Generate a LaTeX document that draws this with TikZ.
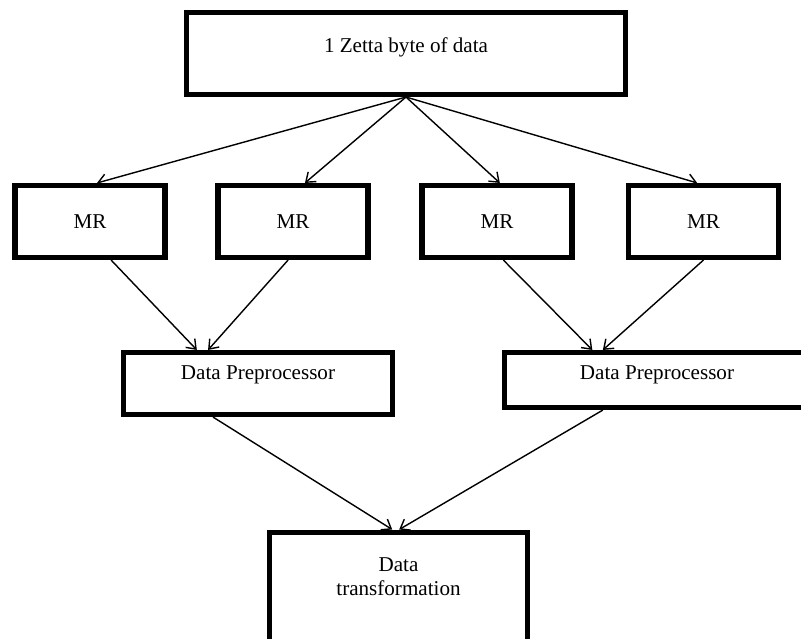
\documentclass[tikz,border=0pt]{standalone}
\usepackage{fontspec}
\setmainfont{Liberation Serif}
\usetikzlibrary{arrows.meta}

\begin{document}
\begin{tikzpicture}[x=0.025cm,y=-0.025cm,
                box/.style={draw=black, line width=3.6pt, inner sep=0pt, font=\fontsize{15pt}{16.5pt}\selectfont},
                link/.style={black, line width=1pt, -{Straight Barb[length=6pt,width=9pt]}}]
                \useasboundingbox (0,0) rectangle (801,638);
                \clip (0,0) rectangle (801,638);
                % boxes
                \node [box, minimum width=10.975cm, minimum height=2.05cm, text depth=12.3pt] (zetta) at (406,53.5) {1 Zetta byte of data};
                \node [box, minimum width=3.75cm, minimum height=1.8cm] (mr1) at (90,221.5) {MR};
                \node [box, minimum width=3.75cm, minimum height=1.8cm] (mr2) at (293,221.5) {MR};
                \node [box, minimum width=3.75cm, minimum height=1.8cm] (mr3) at (497,221.5) {MR};
                \node [box, minimum width=3.75cm, minimum height=1.8cm] (mr4) at (703.5,221.5) {MR};
                \node [box, minimum width=6.725cm, minimum height=1.55cm, text depth=14.9pt] (prep1) at (258,383.5) {Data Preprocessor};
                \node [box, minimum width=7.625cm, minimum height=1.375cm, text depth=9.9pt] (prep2) at (657,380) {Data Preprocessor};
                \node [box, anchor=north, align=center, minimum width=6.45cm, minimum height=4cm, text depth=50.5pt] (trans) at (398.5,529.5) {Data\\transformation};
                % connectors
                \draw [link] (zetta.south) -- ([xshift=5pt]mr1.north);
                \draw [link] (zetta.south) -- ([xshift=8.5pt]mr2.north);
                \draw [link] (zetta.south) -- ([xshift=2pt]mr3.north);
                \draw [link] (zetta.south) -- ([xshift=-4.5pt]mr4.north);
                \draw [link] ([xshift=15pt]mr1.south) -- ([xshift=-43.5pt]prep1.north);
                \draw [link] ([xshift=-3.5pt]mr2.south) -- ([xshift=-35.5pt]prep1.north);
                \draw [link] ([xshift=4.5pt]mr3.south) -- ([xshift=-46pt]prep2.north);
                \draw [link] (mr4.south) -- ([xshift=-38.5pt]prep2.north);
                \draw [link] ([xshift=-32pt]prep1.south) -- ([xshift=-4.5pt]trans.north);
                \draw [link] ([xshift=-38.5pt]prep2.south) -- ([xshift=0.5pt]trans.north);
\end{tikzpicture}
\end{document}
